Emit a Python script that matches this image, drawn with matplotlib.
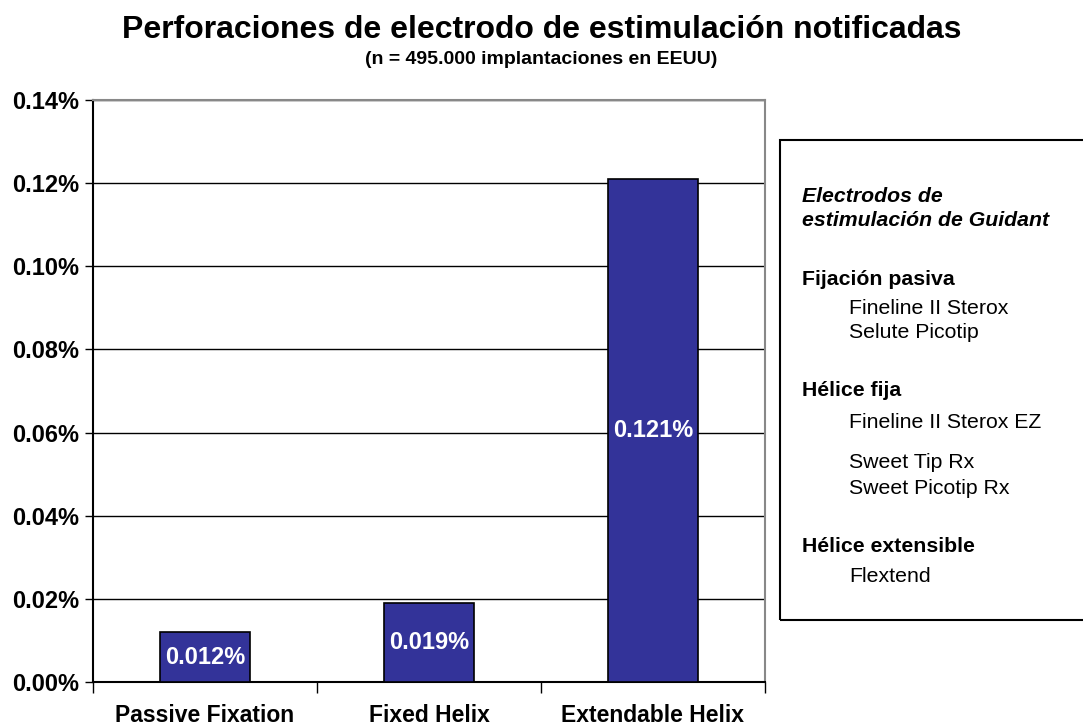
import matplotlib
matplotlib.use("Agg")
import matplotlib.pyplot as plt
from matplotlib.patches import Rectangle

plt.rcParams['font.family'] = ['Liberation Sans', 'DejaVu Sans']

categories = ["Passive Fixation", "Fixed Helix", "Extendable Helix"]
values = [0.012, 0.019, 0.121]
value_labels = ["0.012%", "0.019%", "0.121%"]
yticks = [0.00, 0.02, 0.04, 0.06, 0.08, 0.10, 0.12, 0.14]
ytick_labels = ["0.00%", "0.02%", "0.04%", "0.06%", "0.08%", "0.10%", "0.12%", "0.14%"]
title = "Perforaciones de electrodo de estimulación notificadas"
subtitle = "(n = 495.000 implantaciones en EEUU)"
legend_lines = [
    ("Electrodos de", "head_it"),
    ("estimulación de Guidant", "head_it"),
    ("Fijación pasiva", "head"),
    ("Fineline II Sterox", "item"),
    ("Selute Picotip", "item"),
    ("Hélice fija", "head"),
    ("Fineline II Sterox EZ", "item"),
    ("Sweet Tip Rx", "item"),
    ("Sweet Picotip Rx", "item"),
    ("Hélice extensible", "head"),
    ("Flextend", "item"),
]
legend_y = [197, 220, 279, 309, 333, 391, 422, 463, 488, 546, 577]

W, H = 1083, 727
fig = plt.figure(figsize=(W / 100, H / 100), dpi=100)
ax = fig.add_axes([93 / W, 1 - 682 / H, (765 - 93) / W, (682 - 100) / H])

x = list(range(len(categories)))
ax.bar(x, values, width=0.4, color="#333399", edgecolor="black", linewidth=1.2, zorder=3)
for xi, v, lab in zip(x, values, value_labels):
    ax.text(xi, v / 2, lab, ha="center", va="center", color="white",
            fontsize=17, fontweight="bold", zorder=4)

ax.set_xlim(-0.5, 2.5)
ax.set_ylim(0, 0.14)
ax.set_yticks(yticks)
ax.set_yticklabels(ytick_labels, fontsize=17, fontweight="bold")
ax.yaxis.grid(True, color="black", linewidth=1.0, zorder=0)
ax.set_axisbelow(True)
ax.tick_params(axis="y", direction="out", length=6, width=1.0, pad=4)

ax.set_xticks([-0.5, 0.5, 1.5, 2.5])
ax.set_xticklabels([])
ax.tick_params(axis="x", direction="out", length=8, width=1.0)
ax.set_xticks(x, minor=True)
ax.set_xticklabels(categories, minor=True, fontsize=16.5, fontweight="bold")
ax.tick_params(axis="x", which="minor", length=0, pad=16)

for s in ["top", "right"]:
    ax.spines[s].set_color("#888888")
    ax.spines[s].set_linewidth(1.5)
ax.spines["left"].set_linewidth(1.5)
ax.spines["bottom"].set_linewidth(1.5)

fig.text(0.5, 1 - 30 / H, title, ha="center", va="center", fontsize=23, fontweight="bold")
fig.text(0.5, 1 - 60 / H, subtitle, ha="center", va="center", fontsize=14, fontweight="bold")

# legend box
box = Rectangle((780 / W, 1 - 620 / H), (W + 10 - 780) / W, (620 - 140) / H,
                transform=fig.transFigure, fill=False, edgecolor="black", linewidth=1.5,
                clip_on=False)
fig.patches.append(box)
for (txt, kind), yy in zip(legend_lines, legend_y):
    if kind == "head_it":
        fig.text(802 / W, 1 - yy / H, txt, ha="left", va="center", fontsize=15.3,
                 fontweight="bold", fontstyle="italic")
    elif kind == "head":
        fig.text(802 / W, 1 - yy / H, txt, ha="left", va="center", fontsize=15.3,
                 fontweight="bold")
    else:
        fig.text(849 / W, 1 - yy / H, txt, ha="left", va="center", fontsize=15.3)

fig.savefig("out.png", dpi=100)
